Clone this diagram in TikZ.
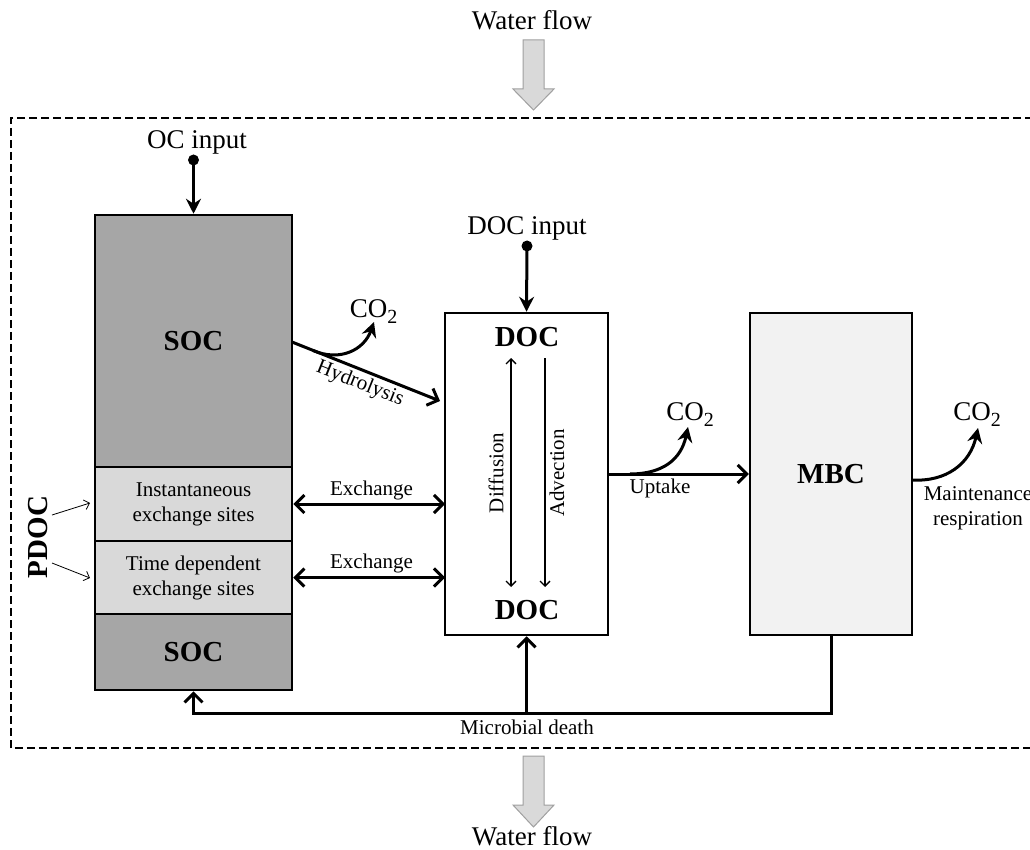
\documentclass[tikz,border=0pt]{standalone}
\usepackage{fontspec}
\setmainfont{Liberation Serif}
\usetikzlibrary{arrows.meta}
\definecolor{darkbox}{HTML}{A6A6A6}
\definecolor{lightbox}{HTML}{D9D9D9}
\definecolor{palebox}{HTML}{F2F2F2}
\definecolor{flowfill}{HTML}{D9D9D9}
\definecolor{flowedge}{HTML}{A0A0A0}
\newcommand{\cotwo}{CO\raisebox{-6pt}{\fontsize{20}{20}\selectfont 2}}
\begin{document}
\begin{tikzpicture}[x=1pt,y=-1pt,
  big/.style={font=\fontsize{27}{30}\selectfont, inner sep=0pt},
  small/.style={font=\fontsize{21}{25}\selectfont, align=center, inner sep=0pt},
  boldtxt/.style={font=\fontsize{29}{32}\selectfont\bfseries, inner sep=0pt},
  box/.style={draw, line width=2.5pt, inner sep=0pt},
  flow/.style={line width=3pt, -{Straight Barb[length=9pt,width=18pt]}},
  stflow/.style={line width=3pt, -{Stealth[length=15pt,width=15pt,inset=5pt]}},
  flowboth/.style={line width=3pt, {Straight Barb[length=9pt,width=18pt]}-{Straight Barb[length=9pt,width=18pt]}},
  thinflow/.style={line width=1.3pt, -{Straight Barb[length=5pt,width=10pt]}},
  thinboth/.style={line width=1.3pt, {Straight Barb[length=5pt,width=10pt]}-{Straight Barb[length=5pt,width=10pt]}},
  hair/.style={line width=0.8pt, -{Straight Barb[length=5pt,width=10pt]}},
  dot/.style={circle, fill, inner sep=0pt, minimum size=11pt},
  blockarrow/.style={fill=flowfill, draw=flowedge, line width=1pt}
]
\useasboundingbox (0,0) rectangle (1030,850);

% dashed frame
\draw[line width=1.8pt, dash pattern=on 8pt off 4pt] (1045,118) -- (11,118) -- (11,748) -- (1045,748);

% water flow
\node[big, anchor=base] (wftop) at (532,30) {Water flow};
\draw[blockarrow] (523,40) -- (544,40) -- (544,89) -- (554,89) -- (533.5,110) -- (513,89) -- (523,89) -- cycle;
\node[big, anchor=base] (wfbot) at (532,845) {Water flow};
\draw[blockarrow] (523,756) -- (544,756) -- (544,805) -- (554,805) -- (533.5,827) -- (513,805) -- (523,805) -- cycle;

% SOC column
\node[box, fill=darkbox, minimum width=197pt, minimum height=252pt, boldtxt] (soc) at (193.5,341) {SOC};
\node[box, fill=lightbox, minimum width=197pt, minimum height=74pt, small] (inst) at (193.5,504) {Instantaneous\\exchange sites};
\node[box, fill=lightbox, minimum width=197pt, minimum height=73pt, small] (timed) at (193.5,577.5) {Time dependent\\exchange sites};
\node[box, fill=darkbox, minimum width=197pt, minimum height=76pt, boldtxt] (soc2) at (193.5,652) {SOC};

% OC input
\node[big, anchor=base] (ocin) at (197,149) {OC input};
\node[dot] (ocdot) at (193.5,160) {};
\draw[stflow] (ocdot.center) -- (soc.north);

% DOC box
\node[box, fill=white, minimum width=163pt, minimum height=322pt] (doc) at (526.5,474) {};
\node[boldtxt] (doctop) at (527,337) {DOC};
\node[boldtxt] (docbot) at (527,610) {DOC};
\node[big, anchor=base] (docin) at (527,235) {DOC input};
\node[dot] (docdot) at (527,246) {};
\draw[stflow] (docdot.center) -- (doc.north);

% diffusion / advection
\coordinate (dfa) at (511,358);
\coordinate (dfb) at (511,587);
\coordinate (ada) at (545,358);
\coordinate (adb) at (545,587);
\draw[thinboth] (dfa) -- (dfb);
\draw[thinflow] (ada) -- (adb);
\node[small, rotate=90] (diflbl) at (496,473) {Diffusion};
\node[small, rotate=90] (advlbl) at (557,473) {Advection};

% MBC box
\node[box, fill=palebox, minimum width=162pt, minimum height=322pt, boldtxt] (mbc) at (831,474) {MBC};

% hydrolysis
\coordinate (hys) at (292,342);
\coordinate (hye) at (440,401);
\coordinate (hyc) at (313,350.5);
\coordinate (hyt) at (374,322);
\draw[flow] (hys) -- (hye);
\draw[stflow] (hyc) .. controls (340,362) and (364,350) .. (hyt);
\node[big, anchor=base] (co2a) at (373.5,317) {\cotwo};
\node[small, rotate=-21.8] (hylbl) at (360,384) {Hydrolysis};

% exchanges
\coordinate (ex1) at (445,504);
\coordinate (ex2) at (445,577.5);
\draw[flowboth] (inst.east) -- (ex1);
\draw[flowboth] (timed.east) -- (ex2);
\node[small] (exl1) at (371.5,490) {Exchange};
\node[small] (exl2) at (371.5,563) {Exchange};

% uptake
\draw[flow] (doc.east) -- (mbc.west);
\coordinate (upc) at (630,474);
\coordinate (upt) at (688,427);
\draw[stflow] (upc) .. controls (662,474) and (681,460) .. (upt);
\node[big, anchor=base] (co2b) at (690,420) {\cotwo};
\node[small] (uplbl) at (660,488) {Uptake};

% maintenance respiration
\coordinate (mrs) at (912,480);
\coordinate (mrt) at (978,428);
\draw[stflow] (mrs) .. controls (946,482) and (970,464) .. (mrt);
\node[big, anchor=base] (co2c) at (977,420) {\cotwo};
\node[small, anchor=north] (mrlbl) at (978,486) {Maintenance\\respiration};

% microbial death
\coordinate (mdy) at (0,713);
\draw[flow] (mbc.south) -- (mbc.south |- mdy) -- (soc2.south |- mdy) -- (soc2.south);
\draw[flow] (doc.south |- mdy) -- (doc.south);
\node[small] (mdlbl) at (527,727) {Microbial death};

% PDOC
\node[boldtxt, rotate=90] (pdoc) at (38,537) {PDOC};
\coordinate (pd1s) at (52,515);
\coordinate (pd1e) at (90,503);
\coordinate (pd2s) at (52,563);
\coordinate (pd2e) at (90,578);
\draw[hair] (pd1s) -- (pd1e);
\draw[hair] (pd2s) -- (pd2e);
\end{tikzpicture}
\end{document}
